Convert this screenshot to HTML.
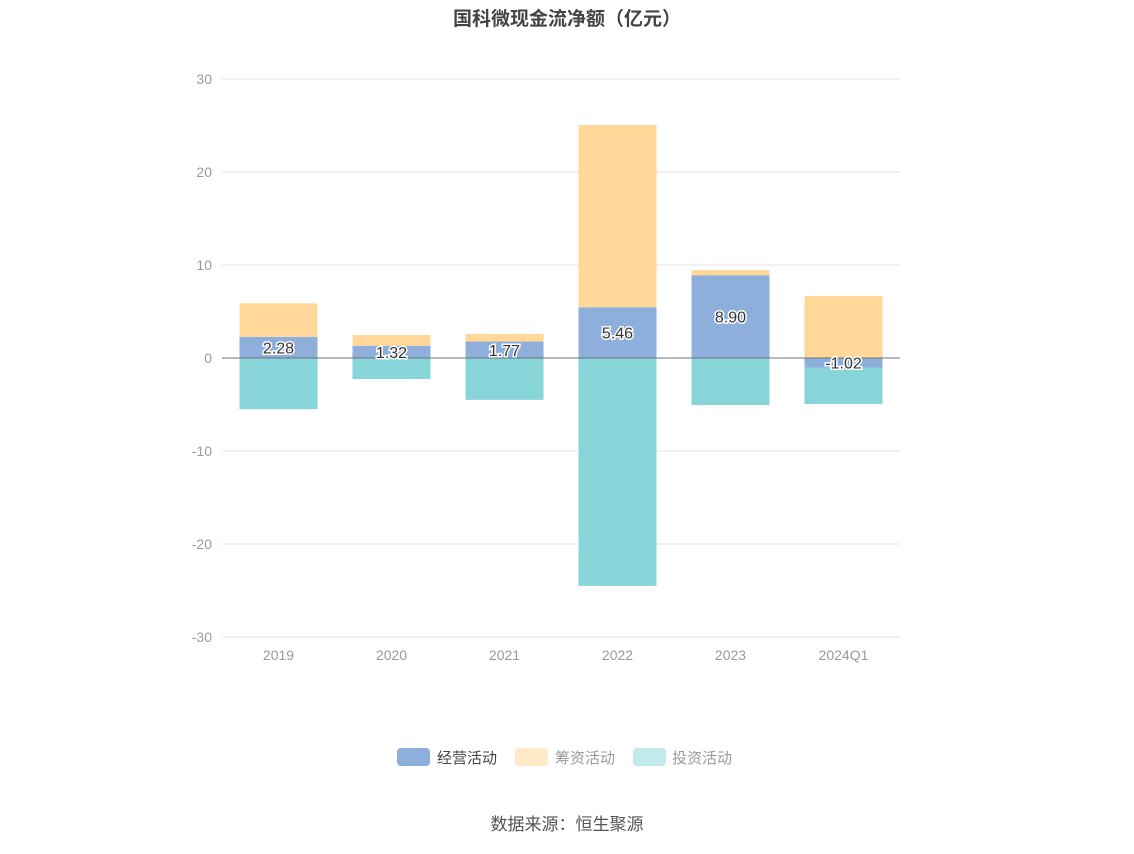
<!DOCTYPE html>
<html><head><meta charset="utf-8"><style>
body{margin:0;background:#fff;width:1134px;height:849px;overflow:hidden;font-family:"Liberation Sans","Noto Sans CJK SC",sans-serif}
</style></head><body>
<svg width="1134" height="849" xmlns="http://www.w3.org/2000/svg" font-family="Liberation Sans, Noto Sans CJK SC, sans-serif">
<text x="567" y="25" text-anchor="middle" font-size="19" font-weight="bold" fill="#444">国科微现金流净额（亿元）</text>
<g id="grid"></g><g id="bars"></g><g id="labels"></g>
<g>
<rect x="397" y="748" width="33" height="18" rx="4" fill="#8eaedb"/>
<text x="437" y="763" font-size="15" fill="#444">经营活动</text>
<rect x="515" y="748" width="33" height="18" rx="4" fill="#ffe9c6"/>
<text x="555" y="763" font-size="15" fill="#999">筹资活动</text>
<rect x="633" y="748" width="33" height="18" rx="4" fill="#c2eaec"/>
<text x="672" y="763" font-size="15" fill="#999">投资活动</text>
</g>
<text x="567" y="830" text-anchor="middle" font-size="17" fill="#555">数据来源：恒生聚源</text>
</svg>
<script>
const categories=["2019","2020","2021","2022","2023","2024Q1"];
const operating=[2.28,1.32,1.77,5.46,8.90,-1.02];
const financing=[3.6,1.15,0.81,19.6,0.56,6.67];
const investing=[-5.5,-2.26,-4.5,-24.5,-5.05,-3.93];
const yTicks=[30,20,10,0,-10,-20,-30];
const NS="http://www.w3.org/2000/svg";
const x0=222,x1=900,yTop=79,yBot=637,yMax=30,yMin=-30;
const y=v=>yTop+(yMax-v)/(yMax-yMin)*(yBot-yTop);
const bw=(x1-x0)/categories.length;
const xc=i=>x0+bw*(i+0.5);
function mk(t,a,p){const e=document.createElementNS(NS,t);for(const k in a)e.setAttribute(k,a[k]);p.appendChild(e);return e;}
const grid=document.getElementById('grid'),bars=document.getElementById('bars'),labels=document.getElementById('labels');
yTicks.forEach(t=>{
 const l=mk('line',{x1:x0,x2:x1,y1:y(t),y2:y(t),stroke:'#e0e3ef','stroke-width':1},grid);
 
 
 const tx=mk('text',{x:212,y:y(t)+5,'text-anchor':'end','font-size':14,fill:'#999'},grid);tx.textContent=t;
 
 
});
categories.forEach((c,i)=>{
 const tx=mk('text',{x:xc(i),y:660,'text-anchor':'middle','font-size':14,fill:'#999'},grid);tx.textContent=c;
 
 
 let pos=0,neg=0;
 const series=[[operating[i],'#8eaedb','operating'],[financing[i],'#ffd899','financing'],[investing[i],'#87d5d9','investing']];
 series.forEach(([v,col,nm])=>{
  let a,b;
  if(v>=0){a=pos;b=pos+v;pos=b;}else{a=neg;b=neg+v;neg=b;}
  const r=mk('rect',{x:xc(i)-39,width:78,y:Math.min(y(a),y(b)),height:Math.abs(y(a)-y(b)),fill:col},bars);
  
  
 });
 const lt=mk('text',{x:xc(i),y:y(operating[i]/2)+6,'text-anchor':'middle','font-size':16,fill:'#333',stroke:'#fff','stroke-width':3,'paint-order':'stroke'},labels);
 lt.textContent=operating[i].toFixed(2);
 
 
});
const z=mk('line',{x1:x0,x2:x1,y1:y(0),y2:y(0),stroke:'#6e7079','stroke-width':1},bars);


</script>
</body></html>
